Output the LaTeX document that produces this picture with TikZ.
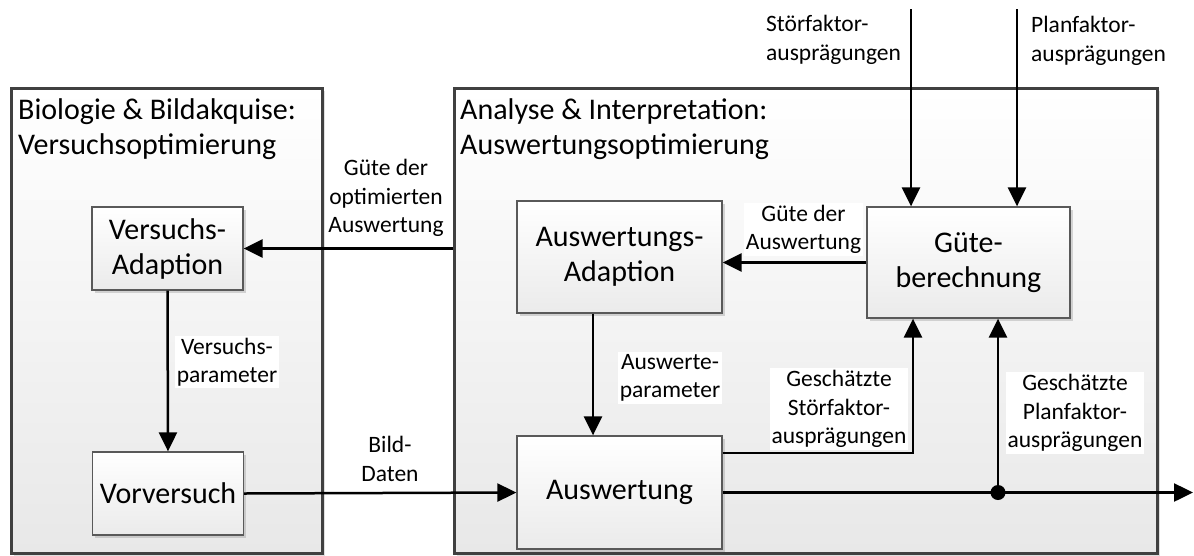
\documentclass[tikz,border=0pt]{standalone}
\usepackage{fontspec}
\setmainfont{Carlito}
\usetikzlibrary{arrows.meta,shadows}
\begin{document}
\begin{tikzpicture}[x=1pt,y=-1pt,
  outerbox/.style={draw=black!75, line width=3pt, top color=white, bottom color=black!9,
    inner sep=0pt, drop shadow={shadow xshift=3pt, shadow yshift=-3pt, opacity=0.25, fill=black!50}},
  blk/.style={draw=black!65, line width=1.3pt, top color=white, bottom color=black!8,
    inner sep=0pt, align=center, font=\fontsize{30}{35}\selectfont,
    drop shadow={shadow xshift=2.5pt, shadow yshift=-2.5pt, opacity=0.3, fill=black!50}},
  ttl/.style={align=left, inner sep=0pt, font=\fontsize{30}{35}\selectfont},
  lab/.style={align=center, fill=white, inner sep=2pt, font=\fontsize{23.5}{28.5}\selectfont},
  toplab/.style={align=left, inner sep=0pt, font=\fontsize{23.5}{28.5}\selectfont},
  arr/.style={line width=2.5pt, -{Triangle[length=19pt,width=18pt]}},
]
\useasboundingbox (0,0) rectangle (1194,555);

% outer frames
\node[outerbox, minimum width=311pt, minimum height=465pt] (bio) at (166.5,320.5) {};
\node[outerbox, minimum width=703pt, minimum height=465pt] (ana) at (805.5,320.5) {};
\node[ttl, anchor=base west] (biot) at (18,154) {Biologie \& Bildakquise:\\Versuchsoptimierung};
\node[ttl, anchor=base west] (anat) at (460,154) {Analyse \& Interpretation:\\Auswertungsoptimierung};

% blocks
\node[blk, minimum width=151pt, minimum height=83pt] (VA) at (167.5,248.5) {Versuchs-\\Adaption};
\node[blk, minimum width=151pt, minimum height=83pt] (VV) at (168,493.5) {Vorversuch};
\node[blk, minimum width=205pt, minimum height=112pt] (AA) at (619.5,257) {Auswertungs-\\Adaption};
\node[blk, minimum width=203pt, minimum height=111pt] (GB) at (968.5,262.5) {Güte-\\berechnung};
\node[blk, minimum width=205pt, minimum height=113pt] (AW) at (619.5,492.5) {Auswertung};

% free ends
\coordinate (sin) at (911,9);
\coordinate (pin) at (1017,9);
\coordinate (out) at (1193,492.5);
\coordinate (j) at (998,492.5);
\coordinate (sx) at (913,453);
\coordinate (ax) at (593,0);

% connectors
\draw[arr] (ana.west |- VA.east) -- (VA.east);
\draw[arr] (VA.south) -- (VV.north);
\draw[arr] (VV.east) -- (AW.west);
\draw[arr] (AA.south -| ax) -- (AW.north -| ax);
\draw[arr] (GB.west) -- (GB.west -| AA.east);
\draw[arr] (AW.east |- sx) -- (sx) -- (GB.south -| sx);
\draw[arr] (AW.east) -- (out);
\draw[arr] (j) -- (GB.south -| j);
\fill (j) circle (7.5pt);
\draw[arr] (sin) -- (GB.north -| sin);
\draw[arr] (pin) -- (GB.north -| pin);

% labels
\node[lab] (l1) at (386,198) {Güte der\\optimierten\\Auswertung};
\node[lab] (l2) at (227,362) {Versuchs-\\parameter};
\node[lab] (l3) at (390,459) {Bild-\\Daten};
\node[lab] (l4) at (670,378) {Auswerte-\\parameter};
\node[lab] (l5) at (803.5,229.5) {Güte der\\Auswertung};
\node[lab] (l6) at (839,409) {Geschätzte\\Störfaktor-\\ausprägungen};
\node[lab] (l7) at (1075,413) {Geschätzte\\Planfaktor-\\ausprägungen};
\node[toplab, anchor=base west] (l8) at (766,60) {Störfaktor-\\ausprägungen};
\node[toplab, anchor=base west] (l9) at (1031,61) {Planfaktor-\\ausprägungen};
\end{tikzpicture}
\end{document}
